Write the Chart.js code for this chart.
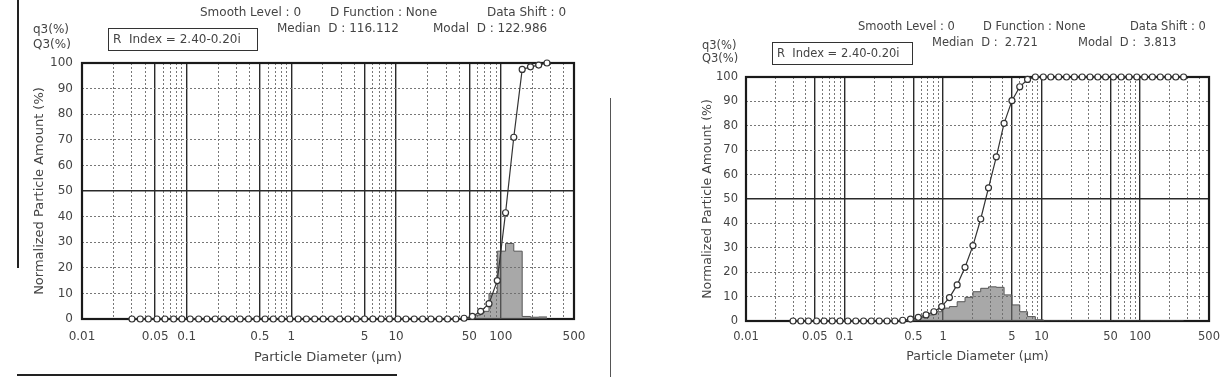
<!DOCTYPE html>
<html>
<head>
<meta charset="utf-8">
<script src="https://cdn.jsdelivr.net/npm/chart.js@4.4.1/dist/chart.umd.min.js"></script>
<style>
  body { margin: 0; width: 1229px; height: 377px; background: #fff; position: relative; overflow: hidden; }
  canvas { position: absolute; top: 0; }
  .t { position: absolute; font-family: "DejaVu Sans", sans-serif; font-size: 12px; line-height: 14px; color: #444; white-space: pre; z-index: 2; }
  .r { font-size: 11.5px; }
  .box { position: absolute; border: 1.5px solid #333; font-family: "DejaVu Sans", sans-serif; color: #444; white-space: pre; padding-left: 4px; box-sizing: border-box; z-index: 2; }
  .rule { position: absolute; background: #222; }
</style>
</head>
<body>
<canvas id="left" width="600" height="377" style="left:0px"></canvas>
<canvas id="right" width="569" height="377" style="left:660px"></canvas>

<!-- left panel header -->
<div class="t" style="left:200px;top:5px">Smooth Level : 0</div>
<div class="t" style="left:330px;top:5px">D Function : None</div>
<div class="t" style="left:487px;top:5px">Data Shift : 0</div>
<div class="t" style="left:277px;top:21px">Median  D : 116.112</div>
<div class="t" style="left:433px;top:21px">Modal  D : 122.986</div>
<div class="t" style="left:33px;top:22px">q3(%)</div>
<div class="t" style="left:33px;top:37px">Q3(%)</div>
<div class="box" style="left:108px;top:28px;width:150px;height:23px;font-size:12px;line-height:20px">R  Index = 2.40-0.20i</div>

<!-- right panel header -->
<div class="t r" style="left:858px;top:19px">Smooth Level : 0</div>
<div class="t r" style="left:983px;top:19px">D Function : None</div>
<div class="t r" style="left:1130px;top:19px">Data Shift : 0</div>
<div class="t r" style="left:932px;top:35px">Median  D :  2.721</div>
<div class="t r" style="left:1078px;top:35px">Modal  D :  3.813</div>
<div class="t r" style="left:702px;top:38px">q3(%)</div>
<div class="t r" style="left:702px;top:51px">Q3(%)</div>
<div class="box" style="left:772px;top:42px;width:141px;height:23px;font-size:11.5px;line-height:20px">R  Index = 2.40-0.20i</div>

<!-- page edges from the scan -->
<div class="rule" style="left:17px;top:0px;width:2px;height:268px"></div>
<div class="rule" style="left:17px;top:374px;width:380px;height:2px"></div>
<div class="rule" style="left:610px;top:98px;width:1px;height:279px;background:#555"></div>

<script>
// channel diameters (um)
const diameters = [
  0.030, 0.036, 0.043, 0.052, 0.062, 0.075, 0.090, 0.108, 0.130, 0.156,
  0.187, 0.225, 0.270, 0.324, 0.389, 0.467, 0.560, 0.672, 0.807, 0.968,
  1.16, 1.39, 1.67, 2.01, 2.41, 2.89, 3.47, 4.16, 5.00, 6.00,
  7.20, 8.64, 10.4, 12.4, 14.9, 17.9, 21.5, 25.8, 31.0, 37.2,
  44.6, 53.5, 64.2, 77.1, 92.5, 111, 133, 160, 192, 230,
  276
];

// left sample: cumulative Q3 and frequency q3 (%)
const cumLeft = [
  0, 0, 0, 0, 0, 0, 0, 0, 0, 0,
  0, 0, 0, 0, 0, 0, 0, 0, 0, 0,
  0, 0, 0, 0, 0, 0, 0, 0, 0, 0,
  0, 0, 0, 0, 0, 0, 0, 0, 0, 0,
  0.3, 1, 3, 6, 15, 41.5, 71, 97.5, 98.5, 99.2,
  100
];
const freqLeft = [
  0, 0, 0, 0, 0, 0, 0, 0, 0, 0,
  0, 0, 0, 0, 0, 0, 0, 0, 0, 0,
  0, 0, 0, 0, 0, 0, 0, 0, 0, 0,
  0, 0, 0, 0, 0, 0, 0, 0, 0, 0,
  0, 0.5, 1.5, 3, 10, 26.5, 29.5, 26.5, 1, 0.7,
  0.8
];

// right sample
const cumRight = [
  0, 0, 0, 0, 0, 0, 0, 0, 0, 0,
  0, 0, 0, 0, 0.3, 0.8, 1.5, 2.5, 3.8, 5.9,
  9.6, 14.8, 22, 30.9, 41.8, 54.6, 67.3, 81, 90.3, 96,
  99, 100, 100, 100, 100, 100, 100, 100, 100, 100,
  100, 100, 100, 100, 100, 100, 100, 100, 100, 100,
  100
];
const freqRight = [
  0, 0, 0, 0, 0, 0, 0, 0, 0, 0,
  0, 0, 0, 0, 0, 0.3, 0.7, 1.4, 2.5, 3.8,
  5.3, 5.9, 7.9, 9.7, 12, 13.4, 14, 13.8, 10.7, 6.6,
  3.8, 1.8, 0.5, 0, 0, 0, 0, 0, 0, 0,
  0, 0, 0, 0, 0, 0, 0, 0, 0, 0,
  0
];

const xTickLabels = [0.01, 0.05, 0.1, 0.5, 1, 5, 10, 50, 100, 500];
const xMajorLines = [0.05, 0.1, 0.5, 1, 5, 10, 50, 100];
const yTicks = [0, 10, 20, 30, 40, 50, 60, 70, 80, 90, 100];

// every 1..9 x decade between 0.01 and 500 gets a grid line
const gridX = [];
[0.01, 0.1, 1, 10, 100].forEach(dec => {
  for (let m = 1; m <= 9; m++) {
    const v = Number((m * dec).toPrecision(3));
    if (v <= 500) gridX.push(v);
  }
});

const near = (a, b) => Math.abs(a - b) / b < 1e-6;
const FONT = "DejaVu Sans";

const framePlugin = {
  id: 'frame',
  beforeDatasetsDraw(chart) {
    const { ctx, chartArea: a } = chart;
    ctx.save();
    ctx.strokeStyle = '#1a1a1a';
    ctx.lineWidth = 2.2;
    ctx.strokeRect(a.left, a.top, a.right - a.left, a.bottom - a.top);
    ctx.restore();
  }
};

function makeChart(id, cum, freq, L) {
  const cumPts = diameters.map((d, i) => ({ x: d, y: cum[i] }));
  const freqPts = diameters.map((d, i) => ({ x: d, y: freq[i] }));
  const textFont = { family: FONT, size: L.fs };
  const titleFont = { family: FONT, size: L.fs + 1 };

  return new Chart(document.getElementById(id), {
    type: 'line',
    data: {
      datasets: [
        {
          label: 'Q3',
          data: cumPts,
          borderColor: '#333',
          borderWidth: 1.2,
          pointRadius: 3,
          pointBackgroundColor: '#fff',
          pointBorderColor: '#333',
          pointBorderWidth: 1.2,
          fill: false,
          clip: false,
          order: 0
        },
        {
          label: 'q3',
          data: freqPts,
          stepped: 'after',
          fill: 'origin',
          backgroundColor: 'rgba(110,110,110,0.6)',
          borderColor: '#555',
          borderWidth: 1,
          pointRadius: 0,
          order: 1
        }
      ]
    },
    options: {
      responsive: false,
      animation: false,
      layout: { padding: L.pad },
      plugins: { legend: { display: false }, tooltip: { enabled: false } },
      scales: {
        x: {
          type: 'logarithmic',
          min: 0.01,
          max: 500,
          afterBuildTicks: s => { s.ticks = gridX.map(v => ({ value: v })); },
          afterFit: s => { s.height = L.xh; },
          grid: {
            drawTicks: false,
            color: c => {
              const v = c.tick ? c.tick.value : 0;
              if (near(v, 0.01) || near(v, 500)) return 'rgba(0,0,0,0)';
              return xMajorLines.some(m => near(v, m)) ? '#2a2a2a' : '#777';
            },
            lineWidth: c => (c.tick && xMajorLines.some(m => near(c.tick.value, m))) ? 1.4 : 1
          },
          border: {
            display: false,
            dash: c => (c.tick && !xMajorLines.some(m => near(c.tick.value, m))) ? [2, 2] : []
          },
          ticks: {
            autoSkip: false,
            maxRotation: 0,
            padding: L.xtp,
            color: '#444',
            font: textFont,
            callback: v => {
              const lab = xTickLabels.find(t => near(v, t));
              return lab !== undefined ? String(lab) : '';
            }
          },
          title: {
            display: true,
            text: 'Particle Diameter (µm)',
            color: '#444',
            font: titleFont,
            padding: { top: 0, bottom: L.xtb }
          }
        },
        y: {
          min: 0,
          max: 100,
          afterBuildTicks: s => { s.ticks = yTicks.map(v => ({ value: v })); },
          afterFit: s => { s.width = L.yw; },
          grid: {
            drawTicks: false,
            color: c => {
              const v = c.tick ? c.tick.value : 0;
              if (v === 0 || v === 100) return 'rgba(0,0,0,0)';
              return v === 50 ? '#2a2a2a' : '#777';
            },
            lineWidth: c => (c.tick && c.tick.value === 50) ? 1.4 : 1
          },
          border: {
            display: false,
            dash: c => (c.tick && c.tick.value !== 50) ? [2, 2] : []
          },
          ticks: {
            padding: L.ytp,
            color: '#444',
            font: textFont
          },
          title: {
            display: true,
            text: 'Normalized Particle Amount (%)',
            color: '#444',
            font: titleFont,
            padding: { top: L.ytt, bottom: 0 }
          }
        }
      }
    },
    plugins: [framePlugin]
  });
}

makeChart('left', cumLeft, freqLeft, {
  pad: { left: 0, right: 26, top: 63, bottom: 0 },
  yw: 82, xh: 58, ytt: 32, ytp: 9, xtp: 11, xtb: 12, fs: 12
});
makeChart('right', cumRight, freqRight, {
  pad: { left: 0, right: 16, top: 77, bottom: 0 },
  yw: 86, xh: 56, ytt: 40, ytp: 8, xtp: 9, xtb: 13, fs: 11.5
});
</script>
</body>
</html>
